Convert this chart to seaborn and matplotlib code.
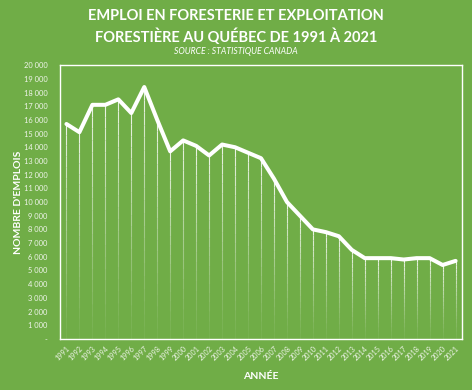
import numpy as np
import pandas as pd
import matplotlib
matplotlib.use("Agg")
import matplotlib.pyplot as plt
import seaborn as sns

years = list(range(1991, 2022))
emplois = [15700, 15100, 17100, 17100, 17500, 16500, 18400, 16000, 13700, 14500,
           14100, 13400, 14200, 14000, 13600, 13200, 11700, 10000, 9000, 8000,
           7800, 7500, 6500, 5900, 5900, 5900, 5800, 5900, 5900, 5400, 5700]
y_ticks = list(range(0, 20001, 1000))
y_labels = ["-"] + [f"{v // 1000} 000" for v in y_ticks[1:]]

GREEN = "#70AD47"
sns.set_theme(style="white")
plt.rcParams['font.family'] = ['Lato', 'DejaVu Sans']

df = pd.DataFrame({"annee": years, "emplois": emplois})

fig = plt.figure(figsize=(4.72, 3.90), dpi=100, facecolor=GREEN)
ax = fig.add_axes([0.127, 0.131, 0.852, 0.702])
ax.set_facecolor(GREEN)

# faded drop lines
nseg = 20
for x, v in zip(years, emplois):
    edges = np.linspace(0, v, nseg + 1)
    for i in range(nseg):
        a = 0.05 + 0.8 * (i / (nseg - 1)) ** 1.2
        ax.plot([x, x], [edges[i], edges[i + 1]], color="white", alpha=a, lw=0.8,
                solid_capstyle="butt")

sns.lineplot(data=df, x="annee", y="emplois", ax=ax, color="white", lw=2.9,
             solid_joinstyle="round", solid_capstyle="round")

ax.set_xlim(1990.5, 2021.5)
ax.set_ylim(0, 20000)
ax.set_yticks(y_ticks)
ax.set_yticklabels(y_labels)
ax.set_xticks(years)
ax.set_xticklabels([str(y) for y in years], rotation=45, ha="right", rotation_mode="anchor")
ax.tick_params(axis="y", colors="#F0F5EC", labelsize=5.4, length=0, pad=9)
ax.tick_params(axis="x", colors="#F0F5EC", labelsize=5.2, length=0, pad=4)
for s in ax.spines.values():
    s.set_color("white")
    s.set_linewidth(1.0)
    s.set_visible(True)

ax.set_xlabel("ANNÉE", color="white", fontsize=7.5, fontweight="bold")
ax.set_ylabel("NOMBRE D'EMPLOIS", color="white", fontsize=7.5, fontweight="bold")
ax.xaxis.set_label_coords(0.5, -0.12)
ax.yaxis.set_label_coords(-0.093, 0.5)

fig.text(0.5, 0.958, "EMPLOI EN FORESTERIE ET EXPLOITATION", ha="center", va="center",
         color="white", fontsize=10.5, fontweight="bold")
fig.text(0.5, 0.905, "FORESTIÈRE AU QUÉBEC DE 1991 À 2021", ha="center", va="center",
         color="white", fontsize=10.5, fontweight="bold")
fig.text(0.5, 0.869, "SOURCE : STATISTIQUE CANADA", ha="center", va="center",
         color="white", fontsize=6.2, style="italic")

fig.savefig("out.png", dpi=100, facecolor=GREEN)
